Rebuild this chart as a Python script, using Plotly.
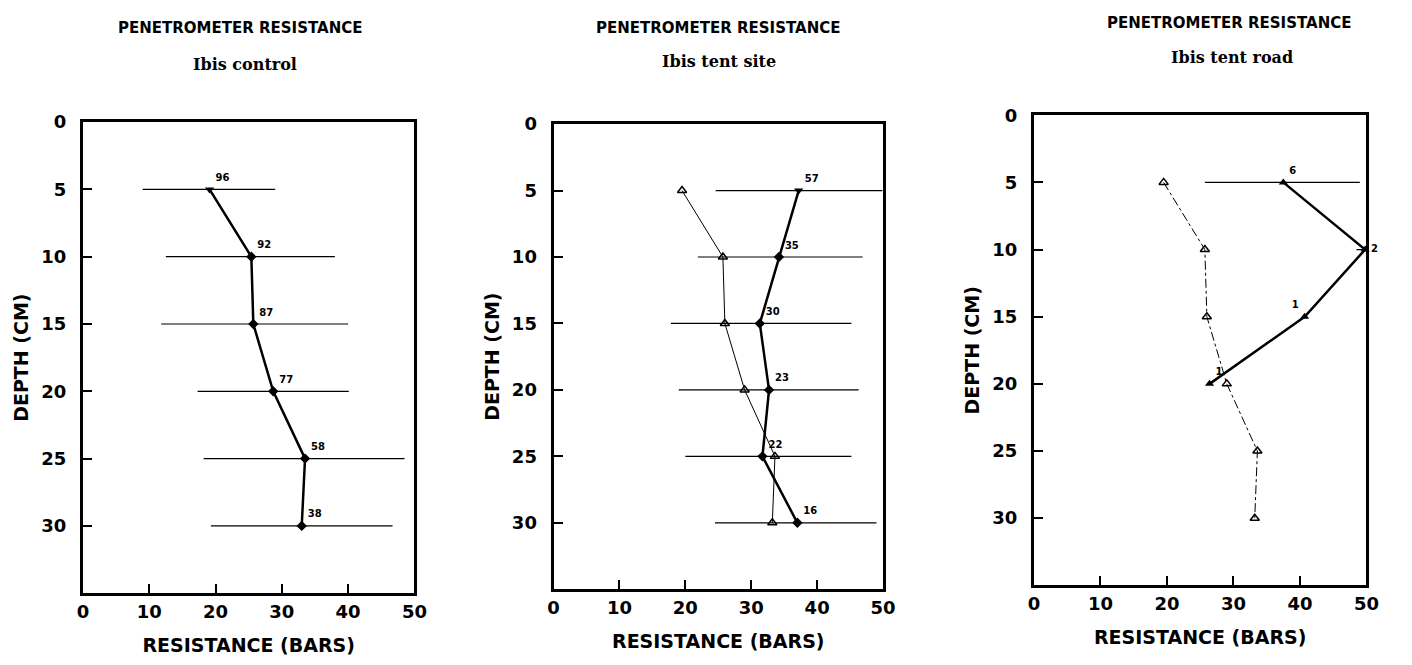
import plotly.graph_objects as go

depth = [5, 10, 15, 20, 25, 30]

# Panel 1: Ibis control
control_res = [19.1, 25.4, 25.7, 28.7, 33.5, 33.0]
control_n = ["96", "92", "87", "77", "58", "38"]
control_lo = [9.0, 12.5, 11.8, 17.3, 18.2, 19.3]
control_hi = [29.0, 38.0, 40.0, 40.1, 48.5, 46.7]

# Panel 2: Ibis tent site
site_res = [37.2, 34.2, 31.3, 32.7, 31.7, 37.0]
site_n = ["57", "35", "30", "23", "22", "16"]
site_lo = [24.6, 21.9, 17.8, 19.0, 20.0, 24.5]
site_hi = [49.9, 46.9, 45.2, 46.3, 45.2, 49.0]

# Open-triangle reference series (same in panels 2 and 3)
ref_res = [19.5, 25.7, 26.0, 29.0, 33.6, 33.2]

# Panel 3: Ibis tent road
road_depth = [5, 10, 15, 20]
road_res = [37.5, 49.8, 40.7, 26.4]
road_n = ["6", "2", "1", "1"]
road_lo = [25.7, 48.5, 40.7, 26.4]
road_hi = [49.0, 49.8, 40.7, 26.4]

titles = ["Ibis control", "Ibis tent site", "Ibis tent road"]
x_ticks = [0, 10, 20, 30, 40, 50]
y_ticks = [0, 5, 10, 15, 20, 25, 30]

W, H = 1412, 665
# plot-area pixel boxes (left, right, top, bottom)
boxes = [(78, 414, 113, 592), (555, 889, 115, 588), (1042, 1379, 106, 584)]
title_pos = [(237, 17), (722, 17), (1240, 12)]
sub_pos = [(242, 54), (723, 51), (1243, 47)]

fig = go.Figure()

def err(vals, lo, hi):
    plus = [h - v for v, h in zip(vals, hi)]
    minus = [v - l for v, l in zip(vals, lo)]
    return dict(type="data", symmetric=False, array=plus, arrayminus=minus,
                color="black", thickness=1.2, width=0)

lab_font = dict(family="DejaVu Sans", size=10, color="black", weight="bold")

# Panel 1
fig.add_trace(go.Scatter(
    x=control_res, y=depth, mode="lines+markers+text", text=control_n,
    textposition="top right", textfont=lab_font,
    line=dict(color="black", width=2.5),
    marker=dict(symbol=["triangle-down"] + ["diamond"] * 5, size=8, color="black"),
    error_x=err(control_res, control_lo, control_hi),
    xaxis="x", yaxis="y", showlegend=False))

# Panel 2
fig.add_trace(go.Scatter(
    x=ref_res, y=depth, mode="lines+markers",
    line=dict(color="black", width=1),
    marker=dict(symbol="triangle-up-open", size=8, color="black", line=dict(width=1.5)),
    xaxis="x2", yaxis="y2", showlegend=False))
fig.add_trace(go.Scatter(
    x=site_res, y=depth, mode="lines+markers+text", text=site_n,
    textposition="top right", textfont=lab_font,
    line=dict(color="black", width=2.5),
    marker=dict(symbol=["triangle-down"] + ["diamond"] * 5, size=8, color="black"),
    error_x=err(site_res, site_lo, site_hi),
    xaxis="x2", yaxis="y2", showlegend=False))

# Panel 3
fig.add_trace(go.Scatter(
    x=ref_res, y=depth, mode="lines+markers",
    line=dict(color="black", width=1, dash="dashdot"),
    marker=dict(symbol="triangle-up-open", size=8, color="black", line=dict(width=1.5)),
    xaxis="x3", yaxis="y3", showlegend=False))
fig.add_trace(go.Scatter(
    x=road_res, y=road_depth, mode="lines+markers+text", text=road_n,
    textposition=["top right", "middle right", "top left", "top right"], textfont=lab_font,
    line=dict(color="black", width=2.5),
    marker=dict(symbol="triangle-up", size=8, color="black"),
    error_x=err(road_res, road_lo, road_hi),
    xaxis="x3", yaxis="y3", showlegend=False, cliponaxis=False))

tick_font = dict(family="DejaVu Sans", size=18, color="black", weight="bold")
title_font = dict(family="DejaVu Sans", size=19, color="black", weight="bold")

layout = dict(
    width=W, height=H, margin=dict(l=0, r=0, t=0, b=0),
    paper_bgcolor="white", plot_bgcolor="white",
    font=dict(family="DejaVu Sans", color="black"),
)
annotations = []
for i, (l, r, t, b) in enumerate(boxes):
    sx = "" if i == 0 else str(i + 1)
    layout["xaxis" + sx] = dict(
        domain=[l / W, r / W], range=[0, 50], anchor="y" + sx,
        tickvals=x_ticks, ticks="inside", ticklen=9, tickwidth=1.5, tickcolor="black",
        showline=True, linewidth=3, linecolor="black", mirror=True,
        showgrid=False, zeroline=False, tickfont=tick_font, ticklabelstandoff=0,
        title=dict(text="RESISTANCE (BARS)", font=title_font, standoff=18),
        fixedrange=True)
    layout["yaxis" + sx] = dict(
        domain=[1 - b / H, 1 - t / H], range=[35, 0], anchor="x" + sx,
        tickvals=y_ticks, ticks="inside", ticklen=9, tickwidth=1.5, tickcolor="black",
        showline=True, linewidth=3, linecolor="black", mirror=True,
        showgrid=False, zeroline=False, tickfont=tick_font, ticklabelstandoff=10,
        title=dict(text="DEPTH (CM)", font=title_font, standoff=8),
        fixedrange=True)
    tx, ty = title_pos[i]
    ux, uy = sub_pos[i]
    annotations.append(dict(
        text="<b>PENETROMETER RESISTANCE</b>", x=tx / W, y=1 - ty / H,
        xref="paper", yref="paper", showarrow=False, xanchor="center", yanchor="middle",
        font=dict(family="DejaVu Sans", size=15, color="black")))
    annotations.append(dict(
        text="<b>" + titles[i] + "</b>", x=ux / W, y=1 - uy / H,
        xref="paper", yref="paper", showarrow=False, xanchor="center", yanchor="middle",
        font=dict(family="DejaVu Serif", size=16, color="black")))
layout["annotations"] = annotations
fig.update_layout(**layout)

fig.write_html("out.html")
